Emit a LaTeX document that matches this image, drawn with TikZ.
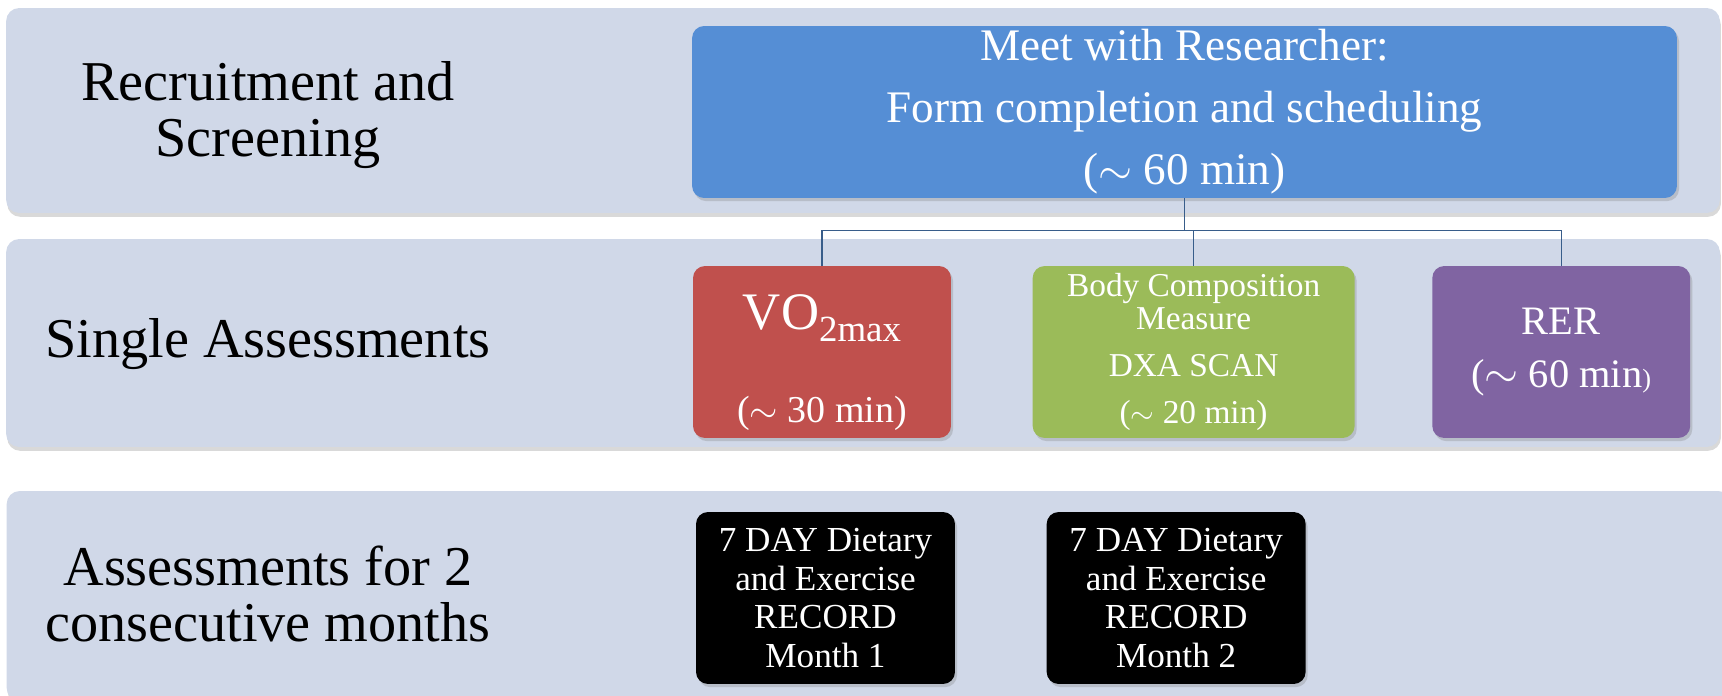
\documentclass[tikz,border=0pt]{standalone}
\usepackage{fontspec}
\setmainfont{Liberation Serif}
\usetikzlibrary{positioning, shadows}
\definecolor{bandgray}{RGB}{208,216,232}
\definecolor{meetblue}{RGB}{85,142,213}
\definecolor{vored}{RGB}{192,80,77}
\definecolor{bodygreen}{RGB}{155,187,89}
\definecolor{rerpurple}{RGB}{128,100,162}
\definecolor{linkblue}{RGB}{56,93,138}

\begin{document}
\begin{tikzpicture}[
        x=0.02cm, y=-0.02cm,
        band/.style={rectangle, rounded corners=0.26cm, fill=bandgray, minimum width=34.28cm,
            drop shadow={shadow xshift=0.6pt, shadow yshift=-2.2pt, opacity=0.3}},
        lbl/.style={align=center, font=\fontsize{32}{31.5}\selectfont},
        box/.style={rectangle, rounded corners=0.24cm, minimum width=5.16cm, minimum height=3.44cm,
            align=center, text=white, inner sep=0pt,
            drop shadow={shadow xshift=1.2pt, shadow yshift=-1.8pt, opacity=0.3}},
        link/.style={draw=linkblue, line width=0.8pt}
    ]
        \useasboundingbox (0,0) rectangle (1722,696);

        % Bands
        \node[band, minimum height=4.1cm] (rowA) at (863,110.5) {};
        \node[band, minimum height=4.16cm] (rowB) at (863,343) {};
        \node[band, minimum width=34.5cm, minimum height=4.2cm] (rowC) at (869,596) {};

        \node[lbl] (recruit) at (268,115) {Recruitment and\\Screening};
        \node[lbl] (single) at (268,344) {Single Assessments};
        \node[lbl] (months) at (268,594) {Assessments for 2\\consecutive months};

        % Meeting
        \node[box, fill=meetblue, minimum width=19.7cm, font=\fontsize{25.7}{35.3}\selectfont] (meet) at (1184.5,112)
            {Meet with Researcher:\\Form completion and scheduling\\($\sim$ 60 min)};

        % Single assessments
        \node[box, fill=vored, font=\fontsize{21.6}{26}\selectfont] (vo) at (822,352)
            {\rule{0pt}{32pt}{\fontsize{30}{30}\selectfont VO\raisebox{-7pt}{\fontsize{21}{21}\selectfont 2max}}\\[27pt]($\sim$ 30 min)};
        \node[box, fill=bodygreen, minimum width=6.44cm, right=1.62cm of vo, font=\fontsize{19}{18.8}\selectfont] (body)
            {Body Composition\\Measure\\[8pt]DXA SCAN\\[8pt]($\sim$ 20 min)};
        \node[box, fill=rerpurple, right=1.54cm of body, font=\fontsize{23}{30}\selectfont] (rer)
            {RER\\($\sim$ 60 min{\fontsize{15}{15}\selectfont)}};

        \draw[link] (meet.south) -- ++(0,32) -| (vo.north);
        \draw[link] (meet.south) -- ++(0,32) -| (body.north);
        \draw[link] (meet.south) -- ++(0,32) -| (rer.north);

        % Monthly records
        \node[box, fill=black, minimum width=5.18cm, font=\fontsize{20}{22}\selectfont] (month1) at (825.5,598)
            {7 DAY Dietary\\and Exercise\\RECORD\\Month 1};
        \node[box, fill=black, minimum width=5.18cm, right=1.82cm of month1, font=\fontsize{20}{22}\selectfont] (month2)
            {7 DAY Dietary\\and Exercise\\RECORD\\Month 2};

    \end{tikzpicture}
\end{document}
